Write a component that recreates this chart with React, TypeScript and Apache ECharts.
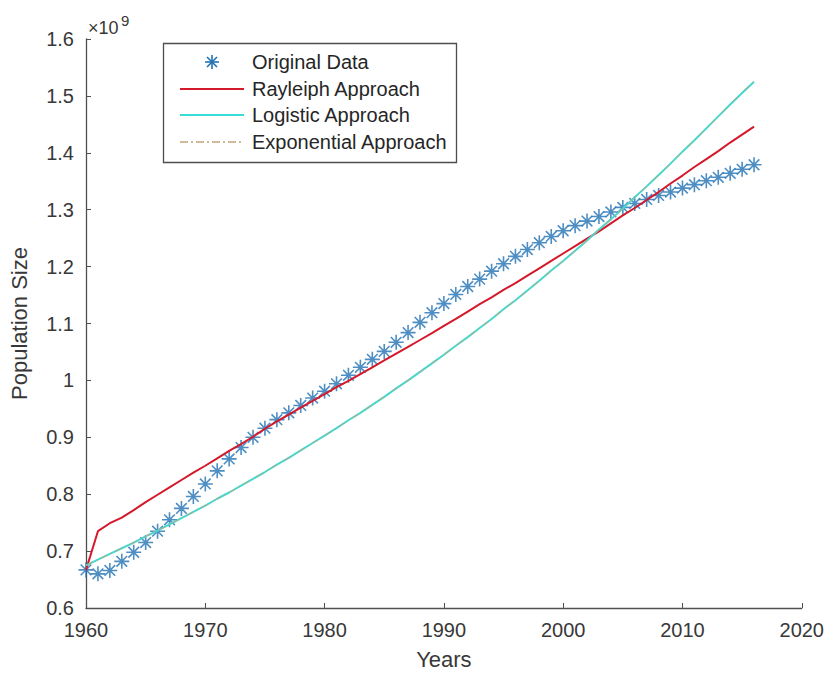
import React, { useEffect, useRef } from "react";
import * as echarts from "echarts";

// Years 1960..2016
const years: number[] = [];
for (let y = 1960; y <= 2016; y++) years.push(y);

// Population in units of 10^9
const originalData = [
  0.667, 0.660, 0.666, 0.682, 0.698, 0.715, 0.735, 0.755, 0.775, 0.796,
  0.818, 0.841, 0.862, 0.882, 0.900, 0.916, 0.931, 0.943, 0.956, 0.969,
  0.981, 0.994, 1.009, 1.023, 1.037, 1.051, 1.067, 1.084, 1.102, 1.119,
  1.135, 1.151, 1.165, 1.178, 1.192, 1.205, 1.218, 1.230, 1.242, 1.253,
  1.263, 1.272, 1.280, 1.288, 1.296, 1.304, 1.311, 1.318, 1.325, 1.331,
  1.338, 1.344, 1.351, 1.357, 1.364, 1.371, 1.379,
];

const rayleigh = [
  0.667, 0.735, 0.749, 0.759, 0.772, 0.786, 0.799, 0.812, 0.825, 0.838,
  0.850, 0.863, 0.876, 0.888, 0.901, 0.915, 0.928, 0.940, 0.952, 0.964,
  0.976, 0.988, 0.999, 1.011, 1.023, 1.035, 1.047, 1.059, 1.071, 1.083,
  1.096, 1.108, 1.121, 1.134, 1.146, 1.159, 1.171, 1.184, 1.197, 1.210,
  1.223, 1.236, 1.249, 1.262, 1.276, 1.290, 1.303, 1.317, 1.331, 1.346,
  1.360, 1.375, 1.389, 1.403, 1.418, 1.432, 1.446,
];

const logistic = [
  0.675, 0.685, 0.695, 0.705, 0.715, 0.726, 0.736, 0.747, 0.758, 0.769,
  0.780, 0.792, 0.803, 0.815, 0.827, 0.839, 0.852, 0.864, 0.877, 0.890,
  0.903, 0.916, 0.930, 0.943, 0.957, 0.971, 0.986, 1.000, 1.015, 1.030,
  1.045, 1.061, 1.076, 1.092, 1.108, 1.125, 1.141, 1.158, 1.175, 1.193,
  1.210, 1.228, 1.246, 1.265, 1.283, 1.302, 1.322, 1.341, 1.361, 1.381,
  1.402, 1.422, 1.443, 1.464, 1.485, 1.505, 1.525,
];

const exponential = [
  0.675, 0.685, 0.695, 0.705, 0.715, 0.726, 0.736, 0.747, 0.758, 0.769,
  0.780, 0.792, 0.803, 0.815, 0.827, 0.839, 0.852, 0.864, 0.877, 0.890,
  0.903, 0.916, 0.930, 0.943, 0.957, 0.971, 0.986, 1.000, 1.015, 1.030,
  1.045, 1.061, 1.076, 1.092, 1.108, 1.125, 1.141, 1.158, 1.175, 1.193,
  1.210, 1.228, 1.246, 1.265, 1.283, 1.302, 1.322, 1.341, 1.361, 1.381,
  1.402, 1.422, 1.443, 1.464, 1.486, 1.506, 1.526,
];

const seriesNames = ["Original Data", "Rayleiph Approach", "Logistic Approach", "Exponential Approach"];

const FONT = "'Liberation Sans', Arial, Helvetica, sans-serif";
const STAR = "path://M0,-10L0,10M-10,0L10,0M-7.1,-7.1L7.1,7.1M-7.1,7.1L7.1,-7.1";

const BLUE = "#2272b4";
const RED = "#d4192b";
const CYAN = "#38dfd8";
const TAN = "#c4a27a";

const pairs = (vals: number[]) => years.map((y, i) => [y, vals[i]]);

function legendGraphic() {
  const rows = [62, 89, 115, 142];
  const textX = 252;
  const lx0 = 180;
  const lx1 = 244;
  const els: any[] = [
    {
      type: "rect",
      shape: { x: 163.5, y: 43.5, width: 293, height: 119 },
      style: { fill: "#ffffff", stroke: "#4d4d4d", lineWidth: 1.3 },
      z: 10,
    },
  ];
  seriesNames.forEach((n, i) => {
    els.push({
      type: "text",
      x: textX,
      y: rows[i],
      style: { text: n, fontSize: 20, fill: "#262626", fontFamily: FONT, verticalAlign: "middle", align: "left" },
      z: 11,
    });
  });
  // star icon
  const cx = 212, cy = rows[0], r = 7, d = 5;
  const starLines = [
    [cx, cy - r, cx, cy + r],
    [cx - r, cy, cx + r, cy],
    [cx - d, cy - d, cx + d, cy + d],
    [cx - d, cy + d, cx + d, cy - d],
  ];
  starLines.forEach((s) => {
    els.push({
      type: "line",
      shape: { x1: s[0], y1: s[1], x2: s[2], y2: s[3] },
      style: { stroke: BLUE, lineWidth: 1.6 },
      z: 11,
    });
  });
  els.push({
    type: "line",
    shape: { x1: lx0, y1: rows[1], x2: lx1, y2: rows[1] },
    style: { stroke: RED, lineWidth: 2 },
    z: 11,
  });
  els.push({
    type: "line",
    shape: { x1: lx0, y1: rows[2], x2: lx1, y2: rows[2] },
    style: { stroke: CYAN, lineWidth: 2 },
    z: 11,
  });
  els.push({
    type: "line",
    shape: { x1: lx0, y1: rows[3], x2: lx1, y2: rows[3] },
    style: { stroke: TAN, lineWidth: 1.5, lineDash: [8, 3, 2, 3] },
    z: 11,
  });
  return els;
}

export default function App() {
  const ref = useRef<HTMLDivElement>(null);
  useEffect(() => {
    document.body.style.margin = "0";
    const chart = echarts.init(ref.current!, null, { renderer: "svg" });
    chart.setOption({
      animation: false,
      backgroundColor: "#ffffff",
      grid: { left: 86, right: 21, top: 39, bottom: 67, containLabel: false },
      xAxis: {
        type: "value",
        min: 1960,
        max: 2020,
        interval: 10,
        name: "Years",
        nameLocation: "middle",
        nameGap: 40,
        nameTextStyle: { fontSize: 22, color: "#383838", fontFamily: FONT },
        axisLine: { show: true, lineStyle: { color: "#505050", width: 1.3 } },
        axisTick: { show: true, inside: true, length: 5, lineStyle: { color: "#505050" } },
        axisLabel: {
          fontSize: 20,
          color: "#383838",
          fontFamily: FONT,
          margin: 12,
          formatter: (v: number) => String(v),
        },
        splitLine: { show: false },
      },
      yAxis: {
        type: "value",
        min: 0.6,
        max: 1.6,
        interval: 0.1,
        name: "Population Size",
        nameLocation: "middle",
        nameGap: 56,
        nameTextStyle: { fontSize: 22, color: "#383838", fontFamily: FONT },
        axisLine: { show: true, lineStyle: { color: "#505050", width: 1.3 } },
        axisTick: { show: true, inside: true, length: 5, lineStyle: { color: "#505050" } },
        axisLabel: {
          fontSize: 20,
          color: "#383838",
          fontFamily: FONT,
          margin: 12,
          formatter: (v: number) => String(parseFloat(v.toFixed(1))),
        },
        splitLine: { show: false },
      },
      graphic: [
        {
          type: "text",
          left: 88,
          top: 19,
          style: { text: "×10", fontSize: 18, fill: "#383838", fontFamily: FONT },
        },
        {
          type: "text",
          left: 121,
          top: 13,
          style: { text: "9", fontSize: 15, fill: "#383838", fontFamily: FONT },
        },
        ...legendGraphic(),
      ],
      series: [
        {
          name: seriesNames[0],
          type: "scatter",
          data: pairs(originalData),
          symbol: STAR,
          symbolSize: 15,
          itemStyle: { color: "rgba(0,0,0,0)", borderColor: BLUE, borderWidth: 1.6 },
        },
        {
          name: seriesNames[1],
          type: "line",
          data: pairs(rayleigh),
          symbol: "none",
          lineStyle: { color: RED, width: 2 },
          itemStyle: { color: RED },
        },
        {
          name: seriesNames[2],
          type: "line",
          data: pairs(logistic),
          symbol: "none",
          lineStyle: { color: CYAN, width: 2 },
          itemStyle: { color: CYAN },
        },
        {
          name: seriesNames[3],
          type: "line",
          data: pairs(exponential),
          symbol: "none",
          lineStyle: { color: TAN, width: 1, type: [8, 3, 2, 3] },
          itemStyle: { color: TAN },
        },
      ],
    });
    return () => chart.dispose();
  }, []);
  return <div ref={ref} style={{ width: 827, height: 675 }} />;
}
